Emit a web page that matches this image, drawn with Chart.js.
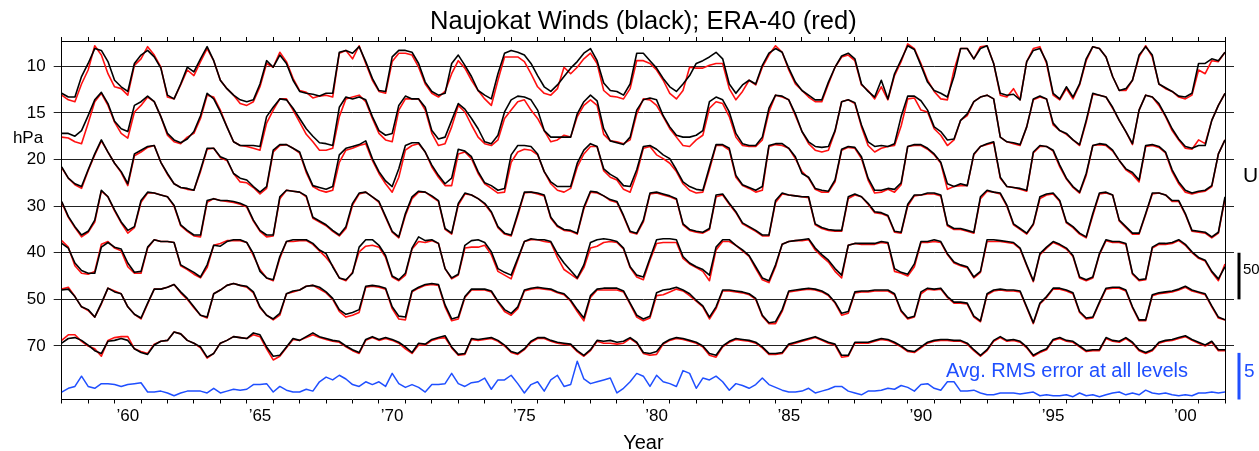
<!DOCTYPE html>
<html><head><meta charset="utf-8">
<script src="https://cdn.jsdelivr.net/npm/chart.js@4.4.1/dist/chart.umd.min.js"></script>
<style>html,body{margin:0;padding:0;background:#fff;}#wrap{width:1259px;height:451px;}</style>
</head><body><div id="wrap"><canvas id="c" width="1259" height="451"></canvas></div>
<script>
// ---- data (m/s, quarterly samples Jan/Apr/Jul/Oct, 1958.0 .. 2002.0) ----
const levels = [10, 15, 20, 30, 40, 50, 70];
const startYear = 1958, endYear = 2002, samplesPerYear = 4;
const yearTicks = [1958,1959,1960,1961,1962,1963,1964,1965,1966,1967,1968,1969,1970,1971,1972,1973,1974,1975,1976,1977,1978,1979,1980,1981,1982,1983,1984,1985,1986,1987,1988,1989,1990,1991,1992,1993,1994,1995,1996,1997,1998,1999,2000,2001,2002];

const naujokat10 = [-29,-33,-33,-11, 3,19,17,5, -15,-22,-27,3, 12,17,10,-2, -31,-35,-19,-1, -6,8,21,6, -15,-24,-31,-36, -38,-36,-19,6, -1,12,3,-15, -27,-29,-30,-32,
-29,-29,15,17, 14,21,5,-13, -26,-27,10,17, 17,15,3,-17, -27,-31,-29,3, 12,1,-11,-26, -31,-35,-8,14, 17,15,12,3, -10,-22,-27,-20, -11,-2,5,14,
19,6,-18,-26, -27,-31,-19,14, 14,6,-2,-13, -22,-27,-19,-10, 3,6,10,15, 8,-19,-29,-20, -15,-19,1,14, 19,15,-2,-17, -26,-31,-36,-36, -17,-1,11,14,
8,-19,-27,-33, -15,-35,-8,7, 22,18,1,-17, -26,-29,-33,-11, 19,19,8,19, 22,3,-29,-31, -30,-36,5,17, 19,5,-29,-35, -22,-33,-19,8, 21,19,10,-11,
-26,-24,-15,12, 21,12,-19,-23, -27,-32,-33,-29, 3,3,8,6, 15];
const era10 = [-31,-36,-38,-19, -4,22,12,-8, -22,-24,-31,1, 8,21,12,-1, -33,-35,-20,-4, -10,5,19,6, -15,-24,-31,-40, -42,-38,-22,3, -1,15,5,-13, -26,-28,-34,-32,
-31,-33,14,17, 8,22,3,-15, -27,-29,5,14, 14,12,-1,-19, -29,-33,-27,-8, 6,-2,-15,-26, -35,-42,-15,10, 10,10,5,-8, -22,-29,-31,-24, -1,-8,-1,8,
14,3,-26,-32, -33,-35,-24,6, 6,3,-4,-15, -29,-35,-26,-1, -2,-2,1,3, 3,-24,-36,-27, -15,-20,-1,12, 22,15,-4,-19, -26,-33,-38,-38, -19,-1,10,12,
6,-20,-26,-35, -22,-36,-10,5, 24,19,3,-15, -27,-35,-36,-4, 19,19,8,21, 22,3,-31,-33, -24,-36,5,19, 21,3,-31,-36, -24,-35,-20,6, 21,19,10,-11,
-26,-26,-15,10, 22,10,-19,-24, -27,-33,-35,-31, -4,-8,6,5, 15];

const naujokat15 = [-22,-22,-25,-19, -3,14,22,10, -9,-17,-20,8, 12,18,12,-4, -22,-29,-32,-28, -20,-3,21,15, 1,-15,-31,-35, -35,-35,-36,-4, 6,15,14,5, -6,-17,-25,-32,
-33,-35,6,17, 15,17,14,-4, -19,-24,-22,8, 18,15,15,6, -19,-28,-26,-8, 10,4,-6,-17, -31,-33,-24,1, 14,18,17,14, 3,-19,-26,-26, -26,-26,-1,12,
19,13,-17,-30, -32,-34,-26,3, 14,16,14,-3, -15,-24,-26,-26, -24,-19,12,17, 14,1,-22,-33, -35,-35,-26,5, 19,18,14,-1, -20,-31,-36,-37, -36,-19,12,14,
11,-13,-31,-36, -35,-36,-33,-4, 18,18,13,3, -15,-20,-29,-28, -8,-1,12,17, 19,15,-26,-31, -32,-34,-15,15, 18,15,-11,-19, -22,-29,-34,-8, 21,19,17,6,
-8,-20,-33,3, 19,17,10,-3, -17,-28,-36,-38, -35,-35,-8,8, 21];
const era15 = [-26,-27,-31,-33, -11,12,21,8, -10,-22,-27,1, 8,17,12,-4, -24,-31,-33,-26, -22,-6,19,17, 3,-15,-31,-35, -36,-38,-40,-11, 3,15,15,3, -10,-23,-31,-40,
-40,-38,-4,15, 17,19,12,-6, -22,-29,-31,3, 15,15,15,3, -22,-35,-33,-15, 8,1,-13,-26, -33,-35,-29,-6, 3,12,14,3, -6,-19,-31,-29, -24,-26,-4,8,
14,8,-23,-30, -31,-33,-29,-1, 15,14,8,-4, -17,-26,-35,-36, -29,-24,5,12, 10,-4,-26,-35, -36,-36,-29,1, 19,17,14,-3, -20,-33,-40,-42, -40,-20,12,14,
10,-15,-35,-42, -38,-36,-35,-14, 15,16,3,1, -17,-24,-35,-29, -8,-3,12,17, 19,15,-26,-31, -33,-35,-15,14, 17,15,-13,-19, -23,-29,-35,-10, 20,19,17,5,
-8,-20,-34,3, 19,17,8,-4, -19,-29,-38,-39, -29,-33,-8,8, 21];

const naujokat20 = [-8,-20,-26,-29, -11,6,21,8, -4,-13,-26,6, 10,14,15,-3, -15,-26,-30,-31, -33,-11,12,12, 3,0,-15,-20, -22,-29,-35,-29, 10,16,16,12, 8,-12,-28,-30,
-32,-29,5,12, 14,16,20,1, -13,-23,-29,-10, 15,18,18,8, -6,-17,-26,-20, 11,9,3,-13, -25,-28,-33,-31, 5,15,15,14, 6,-13,-24,-29, -29,-29,-4,10,
17,14,-10,-16, -20,-28,-29,-11, 14,15,11,5, 1,-11,-24,-29, -32,-33,-8,16, 16,12,-17,-27, -30,-33,-29,15, 17,17,12,3, -15,-19,-31,-33, -34,-22,11,14,
13,3,-20,-33, -33,-31,-32,-25, 14,16,16,12, 6,-3,-26,-29, -26,-28,6,14, 17,19,-19,-29, -30,-31,-33,8, 15,14,10,-6, -20,-29,-35,-15, 15,17,16,10,
-1,-10,-14,-22, 15,16,14,8, -11,-24,-33,-36, -34,-33,-28,6, 21];
const era20 = [-9,-20,-27,-31, -12,5,20,8, -4,-14,-28,4, 8,13,15,-3, -16,-26,-30,-32, -33,-13,11,12, 2,-1,-15,-24, -25,-30,-37,-31, 8,15,16,12, 7,-14,-29,-33,
-35,-33,-3,10, 12,15,17,-1, -15,-26,-35,-19, 10,15,17,8, -8,-19,-28,-28, 6,8,1,-15, -26,-31,-36,-35, -3,8,11,10, 5,-13,-26,-33, -35,-31,-8,6,
14,14,-12,-19, -22,-32,-35,-15, 12,14,5,1, -4,-13,-26,-33, -36,-35,-11,15, 15,10,-19,-28, -31,-35,-33,14, 16,15,12,1, -13,-20,-32,-35, -35,-24,10,13,
12,1,-22,-36, -35,-32,-35,-27, 14,15,15,11, 5,-4,-32,-29, -28,-28,5,14, 16,18,-20,-29, -30,-32,-34,7, 14,14,9,-8, -21,-30,-36,-17, 15,16,15,9,
-1,-11,-16,-24, 14,15,13,7, -13,-26,-35,-37, -35,-34,-29,6, 21];

const naujokat30 = [5,-11,-22,-31, -27,-15,17,10, -4,-17,-26,-22, 6,15,14,12, 10,1,-20,-26, -31,-31,6,8, 6,6,5,3, 0,-15,-26,-31, -31,10,17,16, 15,11,-12,-16,
-20,-26,-31,-22, 3,14,15,10, 5,-11,-27,-33, -8,10,16,15, 11,6,-24,-29, 3,14,12,8, 3,-6,-22,-29, -31,-8,15,15, 14,12,-12,-21, -25,-26,-29,-1,
16,15,11,7, 5,-10,-27,-29, -15,14,15,13, 11,8,-19,-25, -27,-28,-24,12, 13,3,-6,-18, -22,-26,-31,-31, 6,14,12,11, 10,10,-19,-23, -25,-26,-26,10,
13,10,3,-6, -7,-10,-27,-28, 2,12,12,14, 14,12,-20,-24, -24,-26,-28,10, 17,15,14,1, -19,-24,-29,-19, 10,13,14,6, -17,-22,-29,-33, -8,14,15,12,
-15,-22,-29,-29, -8,14,14,12, 6,6,-8,-26, -27,-28,-33,-28, 10];
const era30 = [4,-12,-23,-33, -28,-17,16,10, -5,-18,-29,-23, 4,14,14,12, 10,0,-21,-27, -32,-33,4,8, 6,5,4,2, -1,-16,-27,-33, -32,8,17,16, 15,10,-13,-17,
-21,-27,-32,-24, 1,13,15,10, 4,-12,-28,-34, -10,8,15,15, 10,5,-25,-30, 1,13,12,8, 2,-7,-23,-30, -32,-10,14,15, 13,11,-13,-22, -26,-27,-30,-3,
15,14,11,6, 4,-11,-28,-30, -17,13,14,12, 10,7,-20,-26, -28,-29,-25,10, 12,2,-7,-19, -23,-27,-32,-32, 4,13,12,11, 10,9,-20,-24, -26,-27,-27,8,
12,10,2,-7, -8,-11,-28,-29, 0,11,12,13, 13,11,-21,-25, -25,-27,-29,8, 16,15,13,0, -20,-25,-30,-20, 8,12,13,5, -18,-23,-30,-34, -10,13,14,12,
-16,-23,-30,-30, -9,13,14,12, 5,5,-9,-27, -28,-29,-34,-29, 8];

const naujokat40 = [10,5,-11,-19, -22,-22,6,11, 6,4,-11,-21, -20,6,14,12, 12,11,-13,-17, -21,-26,-13,8, 7,12,14,14, 11,-1,-20,-27, -29,-4,12,14, 14,14,10,3,
-1,-15,-27,-29, -22,6,14,14, 8,-3,-25,-29, -22,5,17,13, 14,10,-17,-27, -23,8,13,14, 11,1,-17,-21, -24,-6,12,15, 14,14,12,-1, -11,-19,-27,-13,
11,14,15,14, 12,5,-15,-24, -26,-6,14,15, 15,14,-4,-11, -15,-18,-24,6, 14,14,8,3, -3,-15,-27,-30, -13,9,12,13, 14,15,5,-2, -8,-17,-24,8,
10,10,10,10, 12,11,-17,-21, -23,-12,12,12, 14,12,-1,-10, -13,-15,-26,-20, 14,14,13,12, 11,5,-13,-30, -1,6,12,9, 5,-3,-26,-29, -26,-1,14,12,
12,10,-22,-29, -28,6,10,10, 11,14,9,1, -5,-8,-20,-28, -15];
const era40 = [13,6,-14,-22, -23,-20,9,12, 5,2,-15,-22, -22,5,14,12, 12,11,-14,-18, -23,-27,-16,8, 10,13,13,13, 11,-3,-18,-27, -30,-6,12,12, 13,13,9,2,
-5,-14,-27,-30, -21,1,7,8, 6,-5,-26,-30, -24,4,12,11, 13,10,-17,-28, -24,5,6,6, 8,-2,-20,-24, -28,-8,12,14, 14,12,11,-5, -18,-23,-28,-16,
5,7,11,12, 11,4,-16,-26, -29,-8,10,11, 11,11,-6,-12, -16,-20,-30,3, 12,12,8,2, -4,-17,-29,-32, -15,9,12,13, 13,14,3,-4, -10,-20,-27,8,
10,9,9,9, 11,10,-20,-22, -25,-15,11,11, 12,11,-2,-11, -14,-16,-27,-21, 12,12,12,11, 10,4,-14,-31, -2,5,11,8, 4,-4,-27,-30, -27,-2,13,11,
11,9,-23,-30, -29,5,9,9, 10,13,8,0, -6,-9,-21,-30, -12];

const naujokat50 = [10,11,3,-8, -11,-19,-4,12, 8,6,-8,-16, -20,-4,11,11, 13,16,8,1, -8,-17,-19,6, 10,15,17,15, 14,8,-8,-17, -21,-15,6,9, 10,14,15,13,
8,1,-11,-16, -14,-11,14,15, 14,12,-8,-18, -19,9,13,16, 17,16,-6,-21, -19,3,11,11, 11,9,-2,-11, -15,-8,10,12, 13,12,11,8, 6,-1,-11,-20,
4,11,12,12, 12,9,-4,-17, -21,-18,7,10, 11,13,10,6, -1,-7,-19,-8, 10,10,9,8, 6,1,-17,-25, -24,-11,9,10, 11,12,11,9, 5,-3,-15,-13,
8,9,9,10, 10,10,6,-12, -20,-18,8,12, 11,12,3,-3, -3,-4,-18,-23, 6,10,11,10, 10,9,-8,-25, -4,3,12,12, 10,7,-13,-20, -19,-3,12,13,
13,10,-8,-22, -22,5,7,8, 9,11,14,10, 8,6,-7,-19, -22];
const era50 = [11,13,3,-8, -12,-19,-5,12, 9,6,-8,-16, -21,-5,11,11, 13,16,7,0, -9,-17,-20,6, 10,15,17,15, 13,7,-9,-17, -22,-17,6,8, 10,14,15,11,
7,0,-13,-19, -17,-14,13,14, 13,11,-10,-21, -22,8,12,15, 16,15,-8,-23, -21,2,10,10, 10,8,-3,-13, -17,-10,9,11, 12,11,10,7, 5,-2,-13,-23,
2,10,10,10, 10,8,-5,-19, -23,-20,4,5, 8,11,9,4, -2,-8,-21,-10, 9,9,8,7, 5,0,-18,-26, -26,-13,8,9, 10,11,10,8, 4,-4,-17,-15,
7,8,8,9, 9,9,5,-13, -21,-19,6,11, 10,11,2,-4, -4,-5,-19,-24, 5,9,10,9, 9,8,-9,-26, -5,2,11,11, 9,6,-14,-21, -20,-4,11,12,
12,9,-9,-23, -23,4,6,7, 8,10,13,9, 7,5,-8,-20, -22];

const naujokat70 = [3,8,9,6, 1,-5,-8,5, 6,8,6,-3, -7,-9,1,5, 6,15,13,6, 3,-1,-12,-8, 3,6,10,9, 8,14,12,-1, -11,-10,-1,8, 6,10,14,10,
8,6,5,0, -4,-7,7,10, 7,9,7,4, -1,-7,3,2, 7,9,11,-1, -9,-8,8,7, 8,9,6,1, -6,-8,-3,5, 9,9,6,4, 3,2,-5,-10,
-4,6,5,6, 4,5,9,4, -7,-8,-6,3, 7,9,8,6, 4,0,-8,-10, 0,5,8,7, 6,4,-1,-8, -8,-7,2,4, 6,8,10,7, 4,2,-10,-10,
4,4,4,6, 8,7,4,0, -5,-6,-1,4, 6,7,7,6, 6,3,-4,-10, -4,6,10,6, 7,5,-1,-10, -6,-3,7,9, 6,5,0,-5, -4,-4,9,6,
5,9,4,-4, -7,-4,4,6, 7,9,11,7, 4,1,5,-4, -4];
const era70 = [6,12,12,5, 0,-3,-11,6, 9,10,10,-3, -6,-8,2,5, 6,15,13,6, 3,-2,-13,-8, 3,6,10,9, 8,12,10,-3, -15,-11,-2,7, 6,9,12,9,
7,5,4,-1, -5,-8,6,9, 6,8,6,3, -3,-8,1,1, 6,8,9,-2, -10,-9,7,6, 7,8,5,0, -7,-9,-4,4, 8,8,5,3, 2,1,-6,-11,
-5,5,3,3, 2,3,8,3, -8,-10,-9,2, 6,8,7,5, 3,-1,-10,-12, -1,4,7,6, 5,3,-2,-9, -9,-8,1,3, 5,7,9,6, 3,1,-12,-11,
3,3,3,5, 7,6,3,-1, -6,-7,-2,3, 5,6,6,5, 5,2,-5,-11, -5,5,9,5, 6,4,-2,-11, -7,-4,6,8, 5,4,-1,-6, -5,-5,8,5,
4,8,3,-5, -8,-5,3,5, 6,8,10,6, 3,0,4,-5, -5];

const rmsError = [0.8,1.2,1.4,2.5, 1.4,1.2,1.7,1.7, 1.6,1.4,1.6,1.7, 1.8,0.8,0.8,0.9, 0.7,0.4,0.7,0.9, 0.9,0.9,0.7,1.2, 0.7,0.9,1.1,1.0, 1.1,1.6,1.6,1.7, 0.8,1.4,1.0,0.8, 0.8,1.1,0.9,1.9,
2.4,2.1,2.6,2.2, 1.6,1.4,1.9,1.6, 1.9,1.4,2.8,1.7, 1.3,1.6,1.3,0.8, 1.6,1.6,1.7,2.8, 1.7,1.4,1.8,1.9, 2.3,1.1,2.1,2.1, 2.6,1.7,0.7,1.6, 1.9,0.9,2.1,2.6, 1.4,1.6,4.1,2.2,
1.7,1.9,2.1,2.3, 0.7,1.2,1.9,2.8, 2.5,1.4,2.6,1.9, 1.7,1.4,3.1,2.8, 1.2,2.3,2.1,2.5, 1.9,1.0,1.7,1.5, 1.2,1.6,2.3,1.6, 1.3,1.0,0.8,0.8, 0.9,1.2,0.7,0.9, 1.1,1.4,1.4,0.9,
0.7,0.5,0.9,0.9, 1.0,1.2,1.1,1.5, 1.3,0.9,1.6,1.7, 1.2,1.0,1.9,1.9, 0.9,0.9,1.0,0.7, 0.5,0.5,0.7,0.7, 0.7,0.6,0.7,0.8, 0.4,0.5,0.4,0.4, 0.5,0.3,0.7,0.4, 0.5,0.3,0.5,0.7,
0.8,0.5,0.7,0.5, 1.0,0.7,0.6,0.7, 0.5,0.4,0.5,0.4, 0.7,0.7,0.8,0.7, 0.8];

// ---- layout constants ----
const FAMILY = "'Liberation Sans', Arial, Helvetica, sans-serif";
const LEVEL_SPACING = 50;            // m/s between stacked pressure levels
const Y_MAX = 27.1, Y_MIN = -357.4;  // stacked axis range
const RMS_SCALE = 10;                // 5 (RMS units) drawn as 50 axis units
const BLUE = '#1f4fff', RED = '#ff1010', BLACK = '#000000';

const naujokat = [naujokat10, naujokat15, naujokat20, naujokat30, naujokat40, naujokat50, naujokat70];
const era = [era10, era15, era20, era30, era40, era50, era70];
const times = naujokat10.map((_, k) => startYear + k / samplesPerYear);
const offsetOf = i => -LEVEL_SPACING * i;

const datasets = [];
levels.forEach((lev, i) => {
  datasets.push({ label: 'Naujokat ' + lev, order: 0, borderColor: BLACK, borderWidth: 1.6,
    data: naujokat[i].map((v, k) => ({ x: times[k], y: offsetOf(i) + v })) });
});
levels.forEach((lev, i) => {
  datasets.push({ label: 'ERA-40 ' + lev, order: 1, borderColor: RED, borderWidth: 1.6,
    data: era[i].map((v, k) => ({ x: times[k], y: offsetOf(i) + v })) });
});
datasets.push({ label: 'RMS', order: 0, borderColor: BLUE, borderWidth: 1.5,
  data: rmsError.map((v, k) => ({ x: times[k], y: Y_MIN + v * RMS_SCALE })) });

const levelTicks = s => { s.ticks = levels.map((_, i) => ({ value: offsetOf(i) })); };
const yearTickBuild = s => { s.ticks = yearTicks.map(v => ({ value: v })); };

const annotate = {
  id: 'annotate',
  afterDraw(chart) {
    const { ctx, chartArea: a, scales: { y } } = chart;
    const cx = (a.left + a.right) / 2;
    ctx.save();
    ctx.fillStyle = BLACK;
    ctx.textBaseline = 'alphabetic';
    ctx.textAlign = 'center';
    ctx.font = `25.5px ${FAMILY}`;
    ctx.fillText('Naujokat Winds (black); ERA-40 (red)', cx, 29);
    ctx.font = `17px ${FAMILY}`;
    ctx.fillText('hPa', 28, 143);
    ctx.font = `20px ${FAMILY}`;
    ctx.fillText('Year', cx, 449);
    ctx.textAlign = 'left';
    ctx.font = `21px ${FAMILY}`;
    ctx.fillText('U', a.right + 18, 182);
    const bx = a.right + 14;
    const t = y.getPixelForValue(offsetOf(4)), b = y.getPixelForValue(offsetOf(5));
    ctx.fillRect(bx - 1.5, t, 3, b - t);
    ctx.font = `15px ${FAMILY}`;
    ctx.fillText('50', a.right + 18, 274);
    ctx.fillStyle = BLUE;
    const y0 = y.getPixelForValue(Y_MIN), y5 = y.getPixelForValue(Y_MIN + 5 * RMS_SCALE);
    ctx.fillRect(bx - 1.5, y5, 3, y0 - y5);
    ctx.font = `19px ${FAMILY}`;
    ctx.fillText('5', a.right + 19, 377);
    ctx.font = `20px ${FAMILY}`;
    ctx.textAlign = 'right';
    ctx.fillText('Avg. RMS error at all levels', 1188, 377);
    ctx.restore();
  }
};

Chart.defaults.font.family = FAMILY;
new Chart(document.getElementById('c'), {
  type: 'line',
  data: { datasets },
  options: {
    responsive: false, animation: false, devicePixelRatio: 1,
    layout: { padding: { top: 37, left: 0, right: 0, bottom: 0 } },
    plugins: { legend: { display: false }, tooltip: { enabled: false }, title: { display: false } },
    elements: { point: { radius: 0 }, line: { tension: 0, borderJoinStyle: 'round', fill: false } },
    scales: {
      x: { type: 'linear', position: 'bottom', min: startYear, max: endYear,
        afterBuildTicks: yearTickBuild,
        afterFit: s => { s.height = 51.5; },
        ticks: { autoSkip: false, maxRotation: 0, minRotation: 0, labelOffset: 13.2, padding: 3, color: BLACK,
          font: { size: 17 },
          callback: v => (v % 5 === 0 ? '\u2019' + String(v % 100).padStart(2, '0') : '') },
        grid: { drawOnChartArea: false, drawTicks: true, tickLength: 4, color: BLACK, lineWidth: 1 },
        border: { display: true, color: BLACK, width: 1 } },
      x2: { type: 'linear', position: 'top', min: startYear, max: endYear,
        afterBuildTicks: yearTickBuild,
        afterFit: s => { s.height = 4; },
        ticks: { display: false },
        grid: { drawOnChartArea: false, drawTicks: true, tickLength: 4, color: BLACK, lineWidth: 1 },
        border: { display: true, color: BLACK, width: 1 } },
      y: { type: 'linear', position: 'left', min: Y_MIN, max: Y_MAX,
        afterBuildTicks: levelTicks,
        afterFit: s => { s.width = 61.7; },
        ticks: { padding: 8, color: BLACK, font: { size: 17 },
          callback: v => levels[Math.round(-v / LEVEL_SPACING)] },
        grid: { color: '#222', lineWidth: 1, drawTicks: true, tickLength: 8 },
        border: { display: true, color: BLACK, width: 1 } },
      y2: { type: 'linear', position: 'right', min: Y_MIN, max: Y_MAX,
        afterBuildTicks: levelTicks,
        afterFit: s => { s.width = 34; },
        ticks: { display: false },
        grid: { drawOnChartArea: false, drawTicks: true, tickLength: 9, color: '#222', lineWidth: 1 },
        border: { display: true, color: BLACK, width: 1 } }
    }
  },
  plugins: [annotate]
});
</script></body></html>
